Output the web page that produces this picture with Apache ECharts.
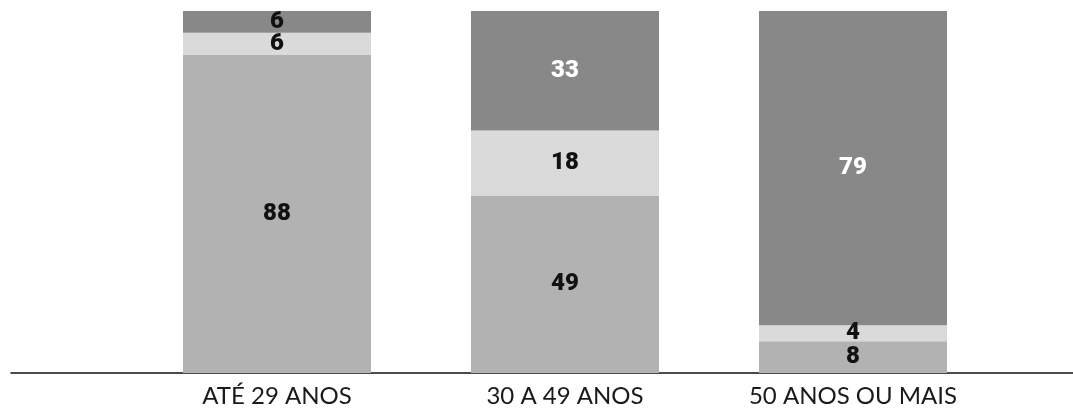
<!DOCTYPE html>
<html><head><meta charset="utf-8">
<script src="https://cdn.jsdelivr.net/npm/echarts@6/dist/echarts.min.js"></script>
<style>html,body{margin:0;padding:0;background:#fff}#c{width:1073px;height:412px}</style>
</head><body><div id="c"></div>
<script>
const categories = ['ATÉ 29 ANOS', '30 A 49 ANOS', '50 ANOS OU MAIS'];
const seriesBottom = [88, 49, 8];
const seriesMiddle = [6, 18, 4];
const seriesTop = [6, 33, 79];

const totals = categories.map((_, i) => seriesBottom[i] + seriesMiddle[i] + seriesTop[i]);
const share = (arr, lightText) => arr.map((v, i) => ({
  value: v / totals[i] * 100, raw: v,
  label: { color: lightText && v > 20 ? '#ffffff' : '#111111' }
}));

const labelBase = { show: true, position: 'inside', fontFamily: 'Roboto', fontWeight: 900, fontSize: 24,
  formatter: p => p.data.raw };

const chart = echarts.init(document.getElementById('c'));
chart.setOption({
  animation: false,
  grid: [
    { left: 133, width: 864, top: 11, bottom: 39 },
    { left: 11, right: 0, top: 11, bottom: 39 }
  ],
  xAxis: [
    { type: 'category', data: categories, gridIndex: 0, axisLine: { show: false }, axisTick: { show: false },
      axisLabel: { fontFamily: 'Lato', fontSize: 24, color: '#1a1a1a', margin: 11 } },
    { type: 'category', data: [], gridIndex: 1, axisLine: { show: true, lineStyle: { color: '#111', width: 1.5 } },
      axisTick: { show: false }, axisLabel: { show: false } }
  ],
  yAxis: [
    { type: 'value', min: 0, max: 100, gridIndex: 0, show: false },
    { type: 'value', min: 0, max: 100, gridIndex: 1, show: false }
  ],
  series: [
    { type: 'bar', stack: 's', barWidth: 188, data: share(seriesBottom, false), itemStyle: { color: '#b2b2b2' },
      label: labelBase },
    { type: 'bar', stack: 's', barWidth: 188, data: share(seriesMiddle, false), itemStyle: { color: '#dadada' },
      label: labelBase },
    { type: 'bar', stack: 's', barWidth: 188, data: share(seriesTop, true), itemStyle: { color: '#888888' },
      label: labelBase }
  ]
});
</script></body></html>
